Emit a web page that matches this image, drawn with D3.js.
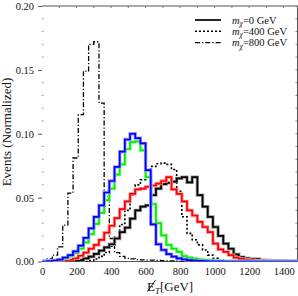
<!DOCTYPE html>
<html>
<head>
<meta charset="utf-8">
<script src="https://cdn.jsdelivr.net/npm/d3@7"></script>
<style>
body { margin: 0; background: #fff; }
svg { display: block; }
text { font-family: "Liberation Serif", "DejaVu Serif", serif; }
</style>
</head>
<body>
<svg id="chart"></svg>
<script>
var screen = {width: 298, height: 296};
var margins = {top: 6, right: 0.5, bottom: 34.5, left: 42};

// lower edges of the 30 GeV bins
var binEdges = [0,30,60,90,120,150,180,210,240,270,300,330,360,390,420,450,480,510,540,570,
    600,630,660,690,720,750,780,810,840,870,900,930,960,990,1020,1050,1080,1110,1140,1170,
    1200,1230,1260,1290,1320,1350,1380,1410,1440,1470];

var blueHist = [0,0.0003,0.0008,0.0015,0.003,0.005,0.008,0.0125,0.0185,0.026,
    0.035,0.044,0.054,0.063,0.074,0.086,0.0955,0.1,0.0965,0.0925,
    0.0715,0.029,0.0135,0.009,0.0058,0.0038,0.0025,0.0016,0.001,0.0007,
    0.0005,0.0003,0.0002,0.0001,0.0001,0,0,0,0,0,0,0,0,0,0,0,0,0,0,0];

var greenHist = [0,0.0002,0.0006,0.0012,0.0024,0.004,0.0065,0.01,0.015,0.0215,
    0.0295,0.038,0.048,0.057,0.068,0.076,0.088,0.0935,0.094,0.087,
    0.066,0.045,0.03,0.0205,0.013,0.01,0.0075,0.0042,0.003,0.0022,
    0.0016,0.0012,0.0009,0.0006,0.0004,0.0003,0.0002,0.0001,0,0,0,0,0,0,0,0,0,0,0,0];

var redHist = [0,0,0,0.0003,0.0006,0.0012,0.0025,0.0045,0.007,0.01,
    0.013,0.017,0.0225,0.028,0.034,0.041,0.047,0.053,0.0565,0.057,
    0.0585,0.0595,0.061,0.063,0.066,0.0565,0.053,0.047,0.04,0.036,
    0.031,0.027,0.023,0.014,0.0095,0.0075,0.005,0.003,0.002,0.0015,
    0.001,0.0007,0.0005,0.0004,0.0003,0.0002,0.0002,0.0001,0.0001,0];

var m0Hist = [0,0,0,0,0,0,0.0003,0.001,0.0025,0.0038,
    0.006,0.0085,0.011,0.0135,0.018,0.023,0.0265,0.0335,0.04,0.043,
    0.044,0.052,0.057,0.0605,0.0615,0.0625,0.065,0.066,0.062,0.066,
    0.052,0.043,0.035,0.027,0.02,0.014,0.01,0.0055,0.0035,0.0025,
    0.002,0.0018,0.001,0.0008,0.0006,0.0005,0.0004,0.0003,0.0002,0.0001];

var m400Hist = [0,0,0,0,0,0,0,0,0,0.0008,
    0.002,0.004,0.007,0.012,0.019,0.029,0.04,0.052,0.06,0.064,
    0.071,0.0745,0.0765,0.077,0.076,0.072,0.055,0.035,0.022,0.017,
    0.013,0.009,0.005,0.0025,0.0012,0.0005,0.0002,0,0,0,0,0,0,0,0,0,0,0,0,0];

var m800Hist = [0.0002,0.002,0.005,0.0115,0.0285,0.0535,0.081,0.115,0.149,0.17,
    0.172,0.124,0.051,0.018,0.007,0.004,0.0025,0.002,0.0015,0.0012,
    0.001,0.001,0.0008,0.0006,0.0005,0.0004,0.0003,0.0002,0.0001,0,0,0,0,0,0,0,0,0,0,0,0,0,0,0,0,0,0,0,0,0];

var xTicks = [0,200,400,600,800,1000,1200,1400];
var yTicks = [0,0.05,0.10,0.15,0.20];
var yMinor = [0.01,0.02,0.03,0.04,0.06,0.07,0.08,0.09,0.11,0.12,0.13,0.14,0.16,0.17,0.18,0.19];
var topTicks = [100,200,300,400,500,600,700,800,900,1000,1100,1200,1300,1400];

var legendNames = ["0", "400", "800"];

var setup = function()
{
    var svg = d3.select("svg")
        .attr("width", screen.width)
        .attr("height", screen.height);

    var width = screen.width - margins.left - margins.right;
    var height = screen.height - margins.top - margins.bottom;

    var xScale = d3.scaleLinear()
        .domain([0, 1480])
        .range([0, width]);

    var yScale = d3.scaleLinear()
        .domain([0, 0.2])
        .range([height, 0]);

    var graph = svg.append("g")
        .attr("id", "graph")
        .attr("transform", "translate(" + margins.left + "," + margins.top + ")");

    svg.append("defs").append("clipPath")
        .attr("id", "plotClip")
        .append("rect")
        .attr("x", 0).attr("y", -2)
        .attr("width", width).attr("height", height + 2);

    // frame: top, right, bottom
    graph.append("path")
        .attr("d", "M0,0H" + width + "V" + height + "H0")
        .attr("fill", "none")
        .attr("stroke", "#555")
        .attr("stroke-width", 1);

    var xAxis = d3.axisBottom(xScale)
        .tickValues(xTicks)
        .tickSize(0)
        .tickPadding(6)
        .tickFormat(d3.format("d"));

    var yAxis = d3.axisLeft(yScale)
        .tickValues(yTicks)
        .tickSize(4)
        .tickPadding(4)
        .tickFormat(d3.format(".2f"));

    var gx = graph.append("g")
        .attr("id", "xAxis")
        .attr("transform", "translate(0," + height + ")")
        .call(xAxis);
    gx.select(".domain").remove();
    gx.selectAll("text").attr("font-size", 10.5).attr("fill", "#111")
        .attr("font-family", "Liberation Serif, serif");

    var gy = graph.append("g")
        .attr("id", "yAxis")
        .call(yAxis);
    gy.select(".domain").remove();
    gy.selectAll("line").attr("stroke", "#555");
    gy.selectAll("text").attr("font-size", 10.5).attr("fill", "#111")
        .attr("font-family", "Liberation Serif, serif");

    graph.selectAll(".minorY")
        .data(yMinor)
        .enter()
        .append("line")
        .attr("x1", 0).attr("x2", 1.5)
        .attr("y1", function(d) { return yScale(d); })
        .attr("y2", function(d) { return yScale(d); })
        .attr("stroke", "#888");

    graph.selectAll(".topTick")
        .data(topTicks)
        .enter()
        .append("line")
        .attr("x1", function(d) { return xScale(d); })
        .attr("x2", function(d) { return xScale(d); })
        .attr("y1", 0).attr("y2", 2)
        .attr("stroke", "#777");

    graph.selectAll(".rightTick")
        .data(yMinor.concat(yTicks))
        .enter()
        .append("line")
        .attr("x1", width).attr("x2", width - 2)
        .attr("y1", function(d) { return yScale(d); })
        .attr("y2", function(d) { return yScale(d); })
        .attr("stroke", "#777");

    var plot = graph.append("g").attr("clip-path", "url(#plotClip)");

    drawHist(plot, m800Hist, xScale, yScale, {color: "#000", width: 1.3, dash: "5,2,1.3,2"});
    drawHist(plot, m400Hist, xScale, yScale, {color: "#000", width: 1.6, dash: "2,2"});
    drawHist(plot, m0Hist, xScale, yScale, {color: "#000", width: 1.7, halo: "#999"});
    drawHist(plot, redHist, xScale, yScale, {color: "#ff0000", width: 1.7, halo: "#ff9999"});
    drawHist(plot, greenHist, xScale, yScale, {color: "#00ee00", width: 1.7, halo: "#99ff99"});
    drawHist(plot, blueHist, xScale, yScale, {color: "#0000ff", width: 1.7, halo: "#9999ff"});

    drawLegend(svg);

    // axis labels
    svg.append("text")
        .attr("transform", "translate(11,132) rotate(-90)")
        .attr("text-anchor", "middle")
        .attr("font-size", 13)
        .attr("fill", "#111")
        .text("Events (Normalized)");

    var xl = svg.append("text")
        .attr("x", 147)
        .attr("y", 291)
        .attr("font-size", 13)
        .attr("fill", "#111");
    xl.append("tspan").text("E");
    xl.append("tspan").attr("font-style", "italic").attr("font-size", 9).attr("dy", 3).text("T");
    xl.append("tspan").attr("dy", -3).text("[GeV]");
    svg.append("line")
        .attr("x1", 147.5).attr("y1", 291.5)
        .attr("x2", 155.5).attr("y2", 280)
        .attr("stroke", "#111").attr("stroke-width", 0.9);
}

var drawHist = function(g, values, xScale, yScale, style)
{
    var pts = binEdges.map(function(e, i) { return [e, values[i]]; });
    pts.push([1500, values[values.length - 1]]);
    pts.unshift([0, 0]);

    var line = d3.line()
        .x(function(d) { return xScale(d[0]); })
        .y(function(d) { return yScale(d[1]); })
        .curve(d3.curveStepAfter);

    if (style.halo)
    {
        g.append("path")
            .datum(pts)
            .attr("d", line)
            .attr("fill", "none")
            .attr("stroke", style.halo)
            .attr("stroke-width", style.width + 1.6)
            .attr("stroke-linejoin", "miter");
    }
    g.append("path")
        .datum(pts)
        .attr("d", line)
        .attr("fill", "none")
        .attr("stroke", style.color)
        .attr("stroke-width", style.width)
        .attr("stroke-dasharray", style.dash || null)
        .attr("stroke-linejoin", "miter");
}

var drawLegend = function(svg)
{
    var dashes = [null, "2,2", "5,2,1.3,2"];
    var widths = [1.7, 1.6, 1.3];
    var leg = svg.append("g").attr("id", "legend");

    legendNames.forEach(function(name, i)
    {
        var y = 20 + i * 11.3;
        leg.append("line")
            .attr("x1", 195).attr("x2", 221)
            .attr("y1", y).attr("y2", y)
            .attr("stroke", "#000")
            .attr("stroke-width", widths[i])
            .attr("stroke-dasharray", dashes[i]);

        var t = leg.append("text")
            .attr("x", 232)
            .attr("y", y + 3.5)
            .attr("font-size", 10.5)
            .attr("fill", "#111");
        t.append("tspan").attr("font-style", "italic").text("m");
        t.append("tspan").attr("font-style", "italic").attr("font-size", 7.5).attr("dy", 2.5).text("χ");
        t.append("tspan").attr("dy", -2.5).text("=" + name + " GeV");
    });
}

setup();
</script>
</body>
</html>
